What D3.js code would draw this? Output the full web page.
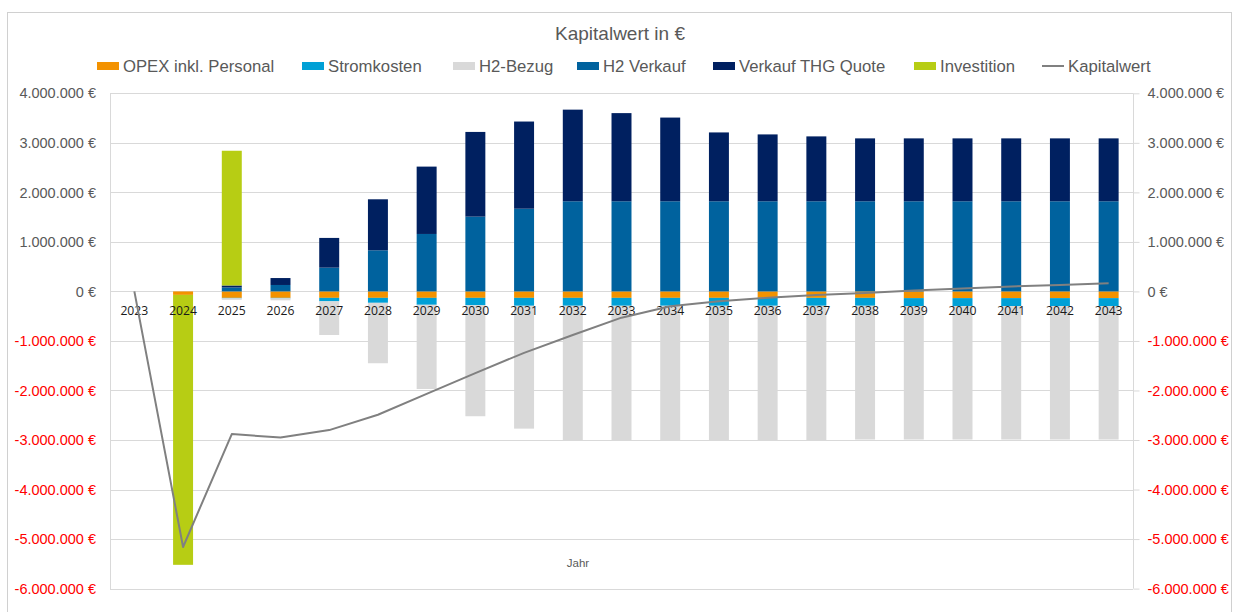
<!DOCTYPE html>
<html>
<head>
<meta charset="utf-8">
<script src="https://cdn.jsdelivr.net/npm/d3@7"></script>
<style>
  html, body { margin: 0; padding: 0; background: #fff; }
  svg { display: block; }
</style>
</head>
<body>
<svg id="chart" width="1236" height="612"></svg>
<script>
// ---- data (values in €) ----
const years = ["2023","2024","2025","2026","2027","2028","2029","2030","2031","2032","2033","2034","2035","2036","2037","2038","2039","2040","2041","2042","2043"];
const opex        = [0, -70000, -130000, -130000, -130000, -130000, -130000, -130000, -130000, -130000, -130000, -130000, -130000, -130000, -130000, -130000, -135000, -135000, -135000, -135000, -135000];
const stromkosten = [0, 0, -10000, -10000, -70000, -100000, -140000, -150000, -160000, -160000, -160000, -160000, -160000, -160000, -160000, -160000, -160000, -160000, -160000, -160000, -160000];
const h2Bezug     = [0, 0, -30000, -40000, -680000, -1220000, -1700000, -2240000, -2480000, -2710000, -2710000, -2710000, -2710000, -2710000, -2710000, -2700000, -2695000, -2695000, -2695000, -2695000, -2695000];
const h2Verkauf   = [0, 0, 80000, 130000, 480000, 830000, 1160000, 1510000, 1670000, 1820000, 1820000, 1820000, 1820000, 1820000, 1820000, 1820000, 1820000, 1820000, 1820000, 1820000, 1820000];
const thgQuote    = [0, 0, 40000, 140000, 600000, 1030000, 1360000, 1710000, 1760000, 1850000, 1780000, 1690000, 1390000, 1350000, 1310000, 1270000, 1270000, 1270000, 1270000, 1270000, 1270000];
const investition = [0, -5450000, 2720000, 0, 0, 0, 0, 0, 0, 0, 0, 0, 0, 0, 0, 0, 0, 0, 0, 0, 0];
const kapitalwert = [0, -5160000, -2880000, -2950000, -2800000, -2490000, -2070000, -1650000, -1240000, -880000, -530000, -300000, -200000, -130000, -70000, -30000, 20000, 60000, 100000, 130000, 165000];
const yTicks = [4000000, 3000000, 2000000, 1000000, 0, -1000000, -2000000, -3000000, -4000000, -5000000, -6000000];

const seriesNames = ["OPEX inkl. Personal", "Stromkosten", "H2-Bezug", "H2 Verkauf", "Verkauf THG Quote", "Investition"];
const seriesData  = [opex, stromkosten, h2Bezug, h2Verkauf, thgQuote, investition];
const seriesColors = ["#F39200", "#00A0D6", "#D9D9D9", "#00629E", "#002060", "#B7CD14"];

// ---- layout ----
const svg = d3.select("#chart");
const plot = { left: 110, right: 1133, top: 93.3, bottom: 588.6 };
const FONT = "'Liberation Sans', Arial, sans-serif";

const x = d3.scaleBand().domain(years).range([plot.left, plot.right]).paddingInner(0.59).paddingOuter(0.295);
const y = d3.scaleLinear().domain([-6000000, 4000000]).range([plot.bottom, plot.top]);

const loc = d3.formatLocale({ decimal: ",", thousands: ".", grouping: [3], currency: ["", " €"], minus: "-" });
const fmt = v => loc.format(",.0f")(v) + " €";

// outer border
svg.append("rect").attr("x", 7.5).attr("y", 12.5).attr("width", 1224).attr("height", 620)
  .attr("fill", "none").attr("stroke", "#D0D0D0").attr("stroke-width", 1);

// title
svg.append("text").attr("x", 620).attr("y", 33).attr("text-anchor", "middle").attr("dominant-baseline", "central")
  .attr("font-family", FONT).attr("font-size", 19).attr("fill", "#595959").text("Kapitalwert in €");

// gridlines
svg.append("g").selectAll("line").data(yTicks).join("line")
  .attr("x1", plot.left).attr("x2", plot.right)
  .attr("y1", d => Math.round(y(d)) + 0.5).attr("y2", d => Math.round(y(d)) + 0.5)
  .attr("stroke", "#D9D9D9").attr("stroke-width", 1);

// left plot edge
svg.append("line").attr("x1", plot.left + 0.5).attr("x2", plot.left + 0.5)
  .attr("y1", Math.round(y(4000000)) + 0.5).attr("y2", Math.round(y(-6000000)) + 0.5)
  .attr("stroke", "#D9D9D9");

// left axis labels
const leftAxis = d3.axisLeft(y).tickValues(yTicks).tickFormat(fmt).tickSize(0).tickPadding(14);
const gl = svg.append("g").attr("transform", `translate(${plot.left},0)`).call(leftAxis);
gl.select(".domain").remove();
gl.selectAll("text").attr("font-family", FONT).attr("font-size", 14.5)
  .attr("fill", d => d < 0 ? "#FF0000" : "#595959");

// right axis
const rightAxis = d3.axisRight(y).tickValues(yTicks).tickFormat(fmt).tickSize(6).tickPadding(8);
const gr = svg.append("g").attr("transform", `translate(${plot.right + 0.5},0)`).call(rightAxis);
gr.select(".domain").attr("stroke", "#D9D9D9").attr("d", `M0,${y(4000000)}V${y(-6000000)}`);
gr.selectAll(".tick line").attr("stroke", "#D9D9D9");
gr.selectAll("text").attr("font-family", FONT).attr("font-size", 14.5)
  .attr("fill", d => d < 0 ? "#FF0000" : "#595959");

// stacked bars
const table = years.map((yr, i) => {
  const row = { year: yr };
  seriesNames.forEach((n, k) => row[n] = seriesData[k][i]);
  return row;
});
const stack = d3.stack().keys(seriesNames).offset(d3.stackOffsetDiverging).order(d3.stackOrderNone);
const stacked = stack(table);

const bars = svg.append("g");
stacked.forEach((s, k) => {
  bars.append("g").attr("fill", seriesColors[k])
    .selectAll("rect").data(s.filter(d => d[1] - d[0] !== 0)).join("rect")
    .attr("x", d => x(d.data.year))
    .attr("width", x.bandwidth())
    .attr("y", d => y(Math.max(d[0], d[1])))
    .attr("height", d => Math.abs(y(d[0]) - y(d[1])));
});

// x labels (inside plot below zero line)
svg.append("g").selectAll("text").data(years).join("text")
  .attr("x", d => x(d) + x.bandwidth() / 2)
  .attr("y", y(0) + 19.5)
  .attr("text-anchor", "middle").attr("dominant-baseline", "central")
  .attr("font-family", "'Open Sans', 'Noto Sans', sans-serif").attr("font-size", 12.2).attr("fill", "#1a1a1a")
  .text(d => d);

// Kapitalwert line
const line = d3.line().x((d, i) => x(years[i]) + x.bandwidth() / 2).y(d => y(d));
svg.append("path").datum(kapitalwert).attr("d", line)
  .attr("fill", "none").attr("stroke", "#808080").attr("stroke-width", 2).attr("stroke-linejoin", "round");

// axis title
svg.append("text").attr("x", 578).attr("y", 563).attr("text-anchor", "middle").attr("dominant-baseline", "central")
  .attr("font-family", FONT).attr("font-size", 11.5).attr("fill", "#595959").text("Jahr");

// legend
const legendItems = seriesNames.map((n, k) => ({ name: n, color: seriesColors[k], type: "rect" }))
  .concat([{ name: "Kapitalwert", color: "#808080", type: "line" }]);
const legendX = [97, 302, 453, 577, 713, 914, 1042];
const legend = svg.append("g");
const ly = 66;
legendItems.forEach((item, i) => {
  const lx = legendX[i];
  const g = legend.append("g");
  if (item.type === "rect") {
    g.append("rect").attr("x", lx).attr("y", ly - 4).attr("width", 22).attr("height", 8).attr("fill", item.color);
  } else {
    g.append("line").attr("x1", lx).attr("x2", lx + 22).attr("y1", ly).attr("y2", ly)
      .attr("stroke", item.color).attr("stroke-width", 2);
  }
  g.append("text").attr("x", lx + 26).attr("y", ly).attr("dominant-baseline", "central")
    .attr("font-family", FONT).attr("font-size", 16.7).attr("fill", "#595959").text(item.name);
});
</script>
</body>
</html>
